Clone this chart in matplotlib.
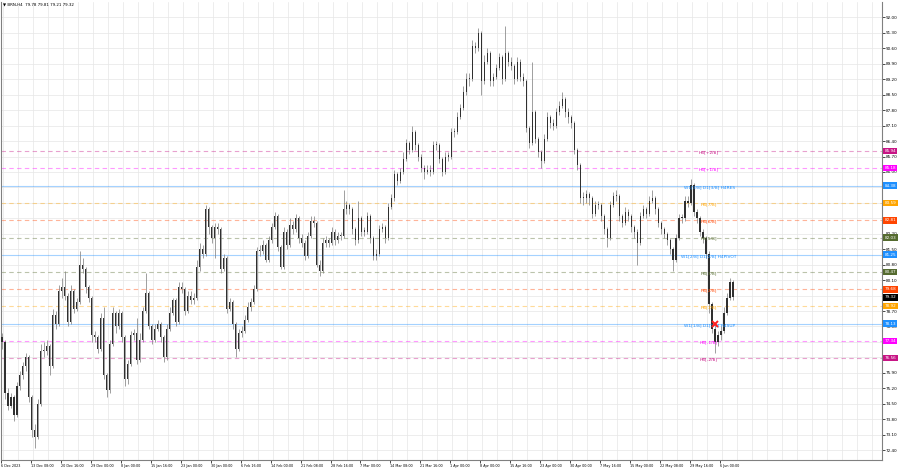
import numpy as np
import matplotlib
matplotlib.use('Agg')
import matplotlib.pyplot as plt
import matplotlib.transforms as mtransforms

# BRN H4 candles (one candle per ~3 px of the screenshot)
first_open = 77.5
closes = [
    77.3, 75.0, 74.4, 74.8, 74.0, 75.3, 75.8, 76.2, 76.6, 74.8,
    73.3, 73.0, 74.5, 76.9, 76.9, 77.1, 76.2, 78.5, 78.1, 79.6,
    79.8, 79.4, 78.2, 79.6, 78.8, 79.1, 80.8, 80.6, 79.8, 79.3,
    77.6, 77.5, 77.0, 78.4, 75.8, 75.1, 77.2, 78.6, 78.0, 78.6,
    77.5, 75.6, 76.3, 77.6, 77.7, 76.5, 77.4, 78.7, 79.5, 78.0,
    77.4, 77.9, 78.1, 77.5, 76.6, 77.9, 78.6, 79.2, 78.2, 79.8,
    79.7, 78.7, 79.4, 79.2, 79.3, 80.7, 81.5, 81.3, 83.3, 82.5,
    82.0, 82.5, 82.4, 80.6, 81.1, 78.8, 79.1, 78.1, 77.0, 77.7,
    77.8, 78.3, 78.9, 79.1, 79.7, 81.4, 81.4, 81.7, 81.0, 81.9,
    82.5, 83.0, 81.6, 80.7, 82.3, 81.7, 82.6, 82.4, 82.9, 82.0,
    81.8, 81.2, 82.1, 82.8, 82.7, 80.8, 80.5, 81.8, 81.9, 81.8,
    82.3, 81.9, 82.1, 82.1, 83.3, 83.5, 83.3, 82.4, 81.9, 82.9,
    82.3, 82.3, 83.0, 82.0, 81.2, 81.3, 82.4, 82.5, 82.0, 83.4,
    83.8, 84.9, 84.6, 85.0, 85.6, 86.3, 86.0, 86.8, 86.2, 85.7,
    85.2, 85.0, 85.1, 85.0, 86.2, 86.2, 85.6, 85.0, 85.7, 85.7,
    86.8, 86.8, 87.5, 87.9, 88.6, 89.2, 89.2, 90.7, 90.6, 91.3,
    89.1, 90.0, 90.4, 89.1, 89.3, 89.7, 90.2, 89.2, 90.4, 90.0,
    89.8, 89.2, 90.0, 89.3, 89.1, 87.0, 86.3, 87.7, 86.5, 85.9,
    85.5, 86.5, 87.5, 87.2, 87.1, 87.7, 88.0, 88.3, 87.7, 87.5,
    87.2, 86.0, 85.3, 83.8, 83.8, 84.0, 83.8, 83.1, 83.5, 83.5,
    83.0, 82.4, 82.0, 83.5, 83.9, 83.9, 83.0, 82.7, 83.2, 83.0,
    82.5, 82.3, 81.8, 83.0, 83.3, 83.1, 83.7, 83.8, 83.3, 82.7,
    82.4, 82.2, 81.9, 81.5, 81.0, 82.0, 82.9, 82.9, 83.7, 83.6,
    84.4, 83.2, 82.9, 82.3, 82.0, 81.3, 79.0, 77.9, 77.3, 77.6,
    77.8, 78.6, 79.3, 80.0, 79.32,
]
highs = [
    77.7, 77.4, 75.2, 75.0, 74.9, 75.5, 76.0, 76.4, 76.8, 76.7,
    74.9, 73.6, 74.7, 77.2, 77.3, 77.4, 77.2, 78.8, 78.7, 79.9,
    80.2, 80.5, 79.5, 79.9, 79.7, 79.3, 81.4, 81.1, 80.7, 79.9,
    79.4, 77.8, 77.6, 78.6, 78.9, 75.9, 77.4, 78.9, 78.7, 78.8,
    78.7, 77.6, 76.5, 77.8, 77.9, 78.4, 77.7, 78.9, 80.4, 79.6,
    78.1, 78.1, 78.3, 78.2, 77.6, 78.1, 78.9, 79.3, 79.3, 80.0,
    80.0, 79.8, 79.6, 79.6, 79.5, 81.0, 81.8, 81.7, 83.5, 83.4,
    82.6, 82.7, 82.7, 82.5, 81.3, 81.2, 79.3, 79.2, 78.2, 77.9,
    78.0, 78.5, 79.1, 79.3, 79.9, 81.6, 81.7, 81.9, 81.8, 82.1,
    82.7, 83.2, 83.1, 81.7, 82.5, 82.4, 82.9, 82.8, 83.1, 83.0,
    82.2, 81.9, 82.3, 83.0, 83.0, 82.8, 81.0, 82.0, 82.1, 82.0,
    82.5, 82.4, 82.3, 82.3, 84.2, 83.7, 83.6, 83.4, 82.5, 83.7,
    83.0, 82.5, 83.2, 83.1, 82.1, 81.5, 82.6, 82.7, 82.6, 83.6,
    84.0, 85.1, 85.0, 85.2, 85.9, 86.5, 86.4, 87.1, 86.9, 86.3,
    85.8, 85.3, 85.3, 85.3, 86.4, 86.4, 86.3, 85.7, 85.9, 85.9,
    87.0, 87.0, 87.7, 88.1, 88.9, 89.5, 89.5, 91.0, 90.9, 91.5,
    91.4, 90.3, 90.6, 90.5, 89.5, 89.9, 90.4, 90.3, 91.6, 90.5,
    90.2, 89.9, 90.2, 90.1, 89.5, 89.2, 87.1, 90.0, 87.8, 86.6,
    86.0, 86.7, 87.7, 87.6, 87.4, 87.9, 88.2, 88.6, 88.4, 87.9,
    87.6, 87.3, 86.1, 85.4, 84.1, 84.2, 84.1, 83.9, 83.7, 83.7,
    83.6, 83.1, 82.5, 83.7, 84.1, 84.2, 84.0, 83.1, 83.4, 83.3,
    83.1, 82.6, 82.4, 83.2, 83.5, 83.4, 83.9, 84.2, 83.9, 83.4,
    82.8, 82.5, 82.3, 82.0, 81.6, 82.2, 83.1, 83.1, 83.9, 83.9,
    84.7, 84.5, 83.3, 83.0, 82.4, 82.1, 81.4, 79.1, 78.0, 77.8,
    78.0, 78.9, 79.5, 80.2, 80.1,
]
lows = [
    77.0, 74.7, 74.2, 74.3, 73.7, 73.9, 75.1, 75.6, 76.0, 74.6,
    73.0, 72.5, 72.9, 74.4, 76.6, 76.7, 75.8, 76.1, 77.9, 78.0,
    79.3, 79.2, 78.0, 78.1, 78.6, 78.7, 79.0, 80.4, 79.5, 79.1,
    77.3, 77.3, 76.8, 76.9, 75.6, 74.8, 75.0, 77.1, 77.7, 77.9,
    77.3, 75.3, 75.4, 76.2, 77.4, 76.3, 76.4, 77.3, 78.6, 77.9,
    77.2, 77.3, 77.8, 77.3, 76.4, 76.5, 77.8, 78.5, 78.0, 78.1,
    79.5, 78.5, 78.6, 79.0, 79.0, 79.2, 80.5, 81.1, 81.2, 82.2,
    81.8, 81.1, 82.2, 80.4, 80.5, 78.6, 78.7, 77.9, 76.6, 76.9,
    77.5, 77.7, 78.2, 78.7, 79.0, 79.6, 81.2, 81.3, 80.9, 80.9,
    81.8, 82.4, 81.4, 80.6, 80.6, 81.5, 81.6, 82.2, 82.3, 81.8,
    81.6, 81.0, 81.1, 82.0, 82.5, 80.7, 80.3, 80.4, 81.6, 81.6,
    81.7, 81.7, 81.8, 81.9, 82.0, 83.1, 83.1, 82.2, 81.7, 81.8,
    82.1, 82.1, 82.2, 81.8, 81.0, 81.0, 81.2, 82.3, 81.8, 81.9,
    83.3, 83.7, 84.4, 84.5, 84.9, 85.5, 85.8, 85.9, 86.0, 85.5,
    85.0, 84.7, 84.9, 84.8, 84.9, 86.0, 85.4, 84.8, 84.9, 85.5,
    85.6, 86.6, 86.7, 87.4, 87.8, 88.5, 88.9, 89.1, 90.4, 90.5,
    88.5, 89.0, 89.9, 88.9, 88.9, 89.2, 89.6, 89.0, 89.1, 89.8,
    89.6, 89.0, 89.1, 89.1, 88.9, 86.8, 86.1, 86.2, 86.3, 85.7,
    85.2, 85.4, 86.4, 87.0, 86.9, 87.0, 87.6, 87.9, 87.5, 87.2,
    87.0, 85.8, 85.1, 83.6, 83.5, 83.6, 83.5, 82.9, 83.0, 83.3,
    82.8, 82.2, 81.6, 81.9, 83.4, 83.7, 82.8, 82.5, 82.6, 82.8,
    82.3, 82.0, 80.8, 81.7, 82.9, 82.9, 83.0, 83.6, 83.1, 82.5,
    82.2, 82.0, 81.7, 81.3, 80.5, 80.9, 81.9, 82.7, 82.8, 83.4,
    83.5, 83.0, 82.7, 82.1, 81.8, 81.1, 78.6, 77.7, 76.8, 77.1,
    77.4, 77.7, 78.5, 79.2, 79.2,
]

# Murrey-style levels drawn on the chart
level_prices = [85.94, 85.18, 84.38, 83.59, 82.81, 82.03, 81.25,
                80.47, 79.68, 78.92, 78.13, 77.34, 76.56]
level_names = ['H4[+2/8]', 'H4[+1/8]', 'W1[3/8] D1[3/8] H4RES', 'H4[7/8]',
               'H4[6/8]', 'H4[5/8]', 'W1[2/8] D1[2/8] H4PIVOT', 'H4[3/8]',
               'H4[2/8]', 'H4[1/8]', 'W1[1/8] D1[1/8] H4SUP', 'H4[-1/8]',
               'H4[-2/8]']
level_colors = ['#c71585', '#ff00ff', '#1e90ff', '#ffa500', '#ff4500',
                '#556b2f', '#1e90ff', '#556b2f', '#ff4500', '#ffa500',
                '#1e90ff', '#ff00ff', '#c71585']
level_dashed = [True, True, False, True, True, True, False,
                True, True, True, False, True, True]

last_price = 79.32
title_text = '\u25bc BRN,H4  79.78 79.81 79.21 79.32'
signal_index = 238
signal_price = 78.13

date_labels = ['6 Dec 2023', '13 Dec 08:00', '20 Dec 16:00', '29 Dec 00:00',
               '8 Jan 00:00', '15 Jan 16:00', '23 Jan 00:00', '30 Jan 00:00',
               '6 Feb 16:00', '14 Feb 00:00', '21 Feb 08:00', '28 Feb 16:00',
               '7 Mar 00:00', '14 Mar 08:00', '21 Mar 16:00', '1 Apr 00:00',
               '8 Apr 00:00', '15 Apr 16:00', '23 Apr 00:00', '30 Apr 00:00',
               '7 May 16:00', '15 May 00:00', '22 May 08:00', '29 May 16:00',
               '6 Jun 00:00']
price_ticks = np.round(np.arange(72.40, 92.01, 0.70), 2)

fig = plt.figure(figsize=(9, 4.68), dpi=100)
fig.patch.set_facecolor('white')
ax = fig.add_axes([0.001, 8 / 468, 881 / 900, 458 / 468])
ax.set_facecolor('white')

# Candles: gray wicks, thin dark bodies
x = np.arange(len(closes))
c = np.array(closes)
o = np.array([first_open] + closes[:-1])
ax.vlines(x, lows, highs, color='#858585', lw=0.55, zorder=3)
body_bottom = np.minimum(o, c)
body_height = np.maximum(np.abs(c - o), 0.05)
ax.bar(x, body_height, bottom=body_bottom, width=0.42, color='#303030',
       lw=0, zorder=4)

# Level lines and their labels
blend = mtransforms.blended_transform_factory(ax.transAxes, ax.transData)
for p, name, col, dashed in zip(level_prices, level_names, level_colors, level_dashed):
    ls = (0, (4, 3)) if dashed else '-'
    ax.axhline(p, color=col, lw=0.8, ls=ls, alpha=0.4, zorder=2)
    ax.text(236, p - 0.06, name, color=col, fontsize=3.2, ha='center',
            va='center', zorder=6)
    ax.text(1.003, p, f'{p:.2f}', transform=blend, fontsize=3, color='white',
            ha='left', va='center', clip_on=False, zorder=10,
            bbox=dict(boxstyle='square,pad=0.3', fc=col, ec='none'))

ax.text(1.003, last_price, f'{last_price:.2f}', transform=blend, fontsize=3,
        color='white', ha='left', va='center', clip_on=False, zorder=10,
        bbox=dict(boxstyle='square,pad=0.3', fc='black', ec='none'))

# Signal cross on the support line
ax.plot(signal_index, signal_price, marker='x', color='#ff2020', ms=5,
        mew=1.4, zorder=7)

# Axes, ticks and grid
ax.set_xlim(-0.33, 293.67)
ax.set_ylim(71.95, 92.70)
ax.yaxis.tick_right()
ax.set_yticks(price_ticks)
ax.set_yticklabels([f'{v:.2f}' for v in price_ticks])
ax.tick_params(axis='y', labelsize=3, pad=1, length=2, width=0.5, colors='black')

ax.set_xticks(np.arange(len(date_labels)) * 10 - 0.33)
ax.set_xticklabels(date_labels, ha='left')
ax.tick_params(axis='x', labelsize=2.4, pad=0.8, length=2, width=0.5)
ax.set_xticks(np.arange(0.33, 293, 5), minor=True)
ax.tick_params(axis='x', which='minor', length=0)

ax.grid(axis='y', which='major', color='#e6e6e6', lw=0.5, zorder=0)
ax.grid(axis='x', which='minor', color='#e6e6e6', lw=0.5, zorder=0)
ax.set_axisbelow(True)

for side in ['left', 'right', 'bottom']:
    ax.spines[side].set_color('#808080')
    ax.spines[side].set_linewidth(0.8)
ax.spines['top'].set_visible(False)

fig.text(3 / 900, 1 - 5 / 468, title_text, fontsize=2.9, ha='left', va='center',
         color='black')

fig.savefig('out.png', dpi=100, facecolor='white')
